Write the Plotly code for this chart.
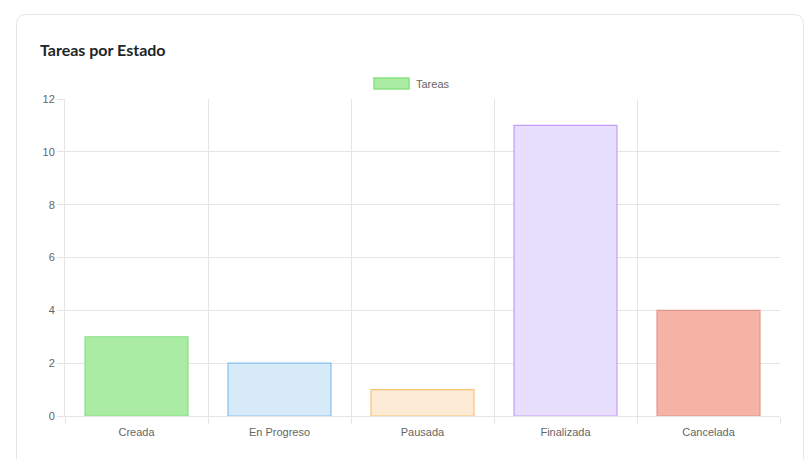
import plotly.graph_objects as go

categories = ["Creada", "En Progreso", "Pausada", "Finalizada", "Cancelada"]
values = [3, 2, 1, 11, 4]
fill_colors = ["#abeca5", "#d6eaf8", "#fdebd5", "#e8defd", "#f5b3a6"]
border_colors = ["#86e27f", "#85c1e9", "#f8c471", "#c49cfb", "#e0978b"]
y_ticks = [0, 2, 4, 6, 8, 10, 12]
series_name = "Tareas"
title_text = "Tareas por Estado"

W, H = 805, 459
L, R, T, B = 65, 25, 99, 43
PW, PH = W - L - R, H - T - B


def px(x):
    return (x - L) / PW


def py(y):
    return (H - B - y) / PH


fig = go.Figure()
fig.add_trace(go.Bar(
    x=categories, y=values, name=series_name,
    marker=dict(color=fill_colors, line=dict(color=border_colors, width=1.2)),
    showlegend=False,
))

# card with rounded corners
x0, y0, x1, y1, r = 16.5, 14.5, 803.5, 470, 10
path = (f"M {px(x0)},{py(y0 + r)} L {px(x0)},{py(y1)} "
        f"M {px(x0)},{py(y0 + r)} Q {px(x0)},{py(y0)} {px(x0 + r)},{py(y0)} "
        f"L {px(x1 - r)},{py(y0)} Q {px(x1)},{py(y0)} {px(x1)},{py(y0 + r)} L {px(x1)},{py(y1)}")
shapes = [dict(type="path", xref="paper", yref="paper", path=path,
               line=dict(color="#e4e6ea", width=1), layer="below")]
# legend box
shapes.append(dict(type="rect", xref="paper", yref="paper",
                   x0=px(374), x1=px(409), y0=py(89), y1=py(78),
                   fillcolor=fill_colors[0], line=dict(color=border_colors[0], width=1.5)))

annotations = [
    dict(text=title_text, xref="paper", yref="paper", x=px(38), y=py(49),
         xanchor="left", yanchor="middle", showarrow=False,
         font=dict(family="Lato, Open Sans, sans-serif", size=16, color="#212529", weight=700)),
    dict(text=series_name, xref="paper", yref="paper", x=px(414), y=py(83.5),
         xanchor="left", yanchor="middle", showarrow=False,
         font=dict(family="Liberation Sans, Arial, sans-serif", size=11, color="#666666")),
]

fig.update_layout(
    width=W, height=H,
    margin=dict(l=L, r=R, t=T, b=B),
    paper_bgcolor="white", plot_bgcolor="white",
    bargap=0.28,
    shapes=shapes, annotations=annotations,
    font=dict(family="Liberation Sans, Arial, sans-serif", size=11, color="#666666"),
    xaxis=dict(
        type="category", tickson="boundaries", ticks="outside", ticklen=7,
        tickcolor="#e5e5e5", showgrid=True, gridcolor="#e5e5e5", gridwidth=1,
        showline=True, linecolor="#e5e5e5", linewidth=1,
        tickfont=dict(size=11, color="#666666"), zeroline=False,
        ticklabelstandoff=6,
    ),
    yaxis=dict(
        range=[0, 12], tickvals=y_ticks, ticks="outside", ticklen=7,
        tickcolor="#e5e5e5", showgrid=True, gridcolor="#e5e5e5", gridwidth=1,
        showline=True, linecolor="#e5e5e5", linewidth=1, zeroline=False,
        tickfont=dict(size=11, color="#666666"),
    ),
)

fig.write_html("out.html")
